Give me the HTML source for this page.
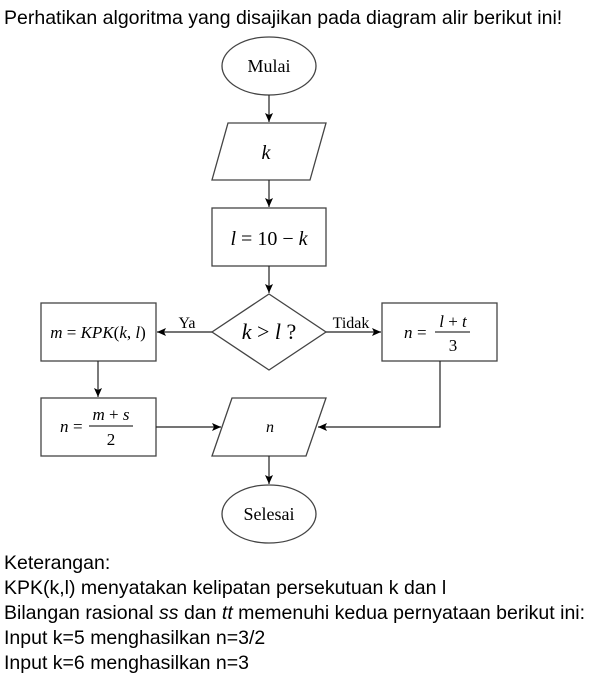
<!DOCTYPE html>
<html><head><meta charset="utf-8"><style>
body{margin:0;width:611px;height:688px;background:#fff;font-family:"Liberation Sans",sans-serif;color:#000;overflow:hidden}
.t{position:absolute;left:4px;font-size:19.5px;white-space:nowrap}
svg{position:absolute;left:0;top:0}
</style></head><body>
<div class="t" style="top:7px">Perhatikan algoritma yang disajikan pada diagram alir berikut ini!</div>
<svg width="611" height="688" font-family="Liberation Serif, serif">
<defs><marker id="a" markerWidth="10" markerHeight="10" refX="9" refY="5" orient="auto" markerUnits="userSpaceOnUse"><path d="M0,1 L9,5 L0,9 L2,5 Z" fill="#000"/></marker></defs>
<g fill="none" stroke="#444" stroke-width="1.3">
<ellipse cx="269" cy="66" rx="47" ry="29"/>
<polygon points="228,123 326,123 310,180 212,180"/>
<rect x="212" y="208" width="114" height="58"/>
<polygon points="269,294 326,332 269,370 212,332"/>
<rect x="41" y="303" width="115" height="58"/>
<rect x="382" y="303" width="115" height="58"/>
<rect x="41" y="398" width="115" height="58"/>
<polygon points="232,398 326,398 306,456 212,456"/>
<ellipse cx="269" cy="514" rx="47" ry="29"/>
</g>
<g stroke="#222" stroke-width="1.2" fill="none" marker-end="url(#a)">
<line x1="269" y1="95" x2="269" y2="122"/>
<line x1="269" y1="180" x2="269" y2="207"/>
<line x1="269" y1="266" x2="269" y2="293"/>
<line x1="212" y1="332" x2="157" y2="332"/>
<line x1="326" y1="332" x2="381" y2="332"/>
<line x1="98" y1="361" x2="98" y2="397"/>
<line x1="156" y1="427" x2="221" y2="427"/>
<polyline points="440,361 440,427 318,427"/>
<line x1="269" y1="456" x2="269" y2="484"/>
</g>
<g font-size="18" text-anchor="middle">
<text x="269" y="72">Mulai</text>
<text x="266" y="159" font-style="italic" font-size="20">k</text>
<text x="269" y="245" font-size="20"><tspan font-style="italic">l</tspan> = 10 − <tspan font-style="italic">k</tspan></text>
<text x="269" y="339" font-size="22"><tspan font-style="italic">k</tspan> &gt; <tspan font-style="italic">l</tspan> ?</text>
<text x="98" y="338" font-size="17"><tspan font-style="italic">m</tspan> = <tspan font-style="italic">KPK</tspan>(<tspan font-style="italic">k</tspan>, <tspan font-style="italic">l</tspan>)</text>
<text x="187" y="328" font-size="16">Ya</text>
<text x="351" y="328" font-size="16">Tidak</text>
<text x="270" y="432" font-style="italic" font-size="16">n</text>
<text x="269" y="520">Selesai</text>
</g>
<g font-size="17">
<text x="404" y="338" font-style="italic">n</text><text x="417" y="338">=</text>
<text x="453" y="327" text-anchor="middle"><tspan font-style="italic">l</tspan> + <tspan font-style="italic">t</tspan></text>
<line x1="435" y1="332" x2="470" y2="332" stroke="#000" stroke-width="1"/>
<text x="453" y="351" text-anchor="middle">3</text>
<text x="60" y="432" font-style="italic">n</text><text x="73" y="432">=</text>
<text x="111" y="420" text-anchor="middle"><tspan font-style="italic">m</tspan> + <tspan font-style="italic">s</tspan></text>
<line x1="89" y1="426" x2="133" y2="426" stroke="#000" stroke-width="1"/>
<text x="111" y="445" text-anchor="middle">2</text>
</g>
</svg>
<div class="t" style="top:552px">Keterangan:</div>
<div class="t" style="top:577px">KPK(k,l) menyatakan kelipatan persekutuan k dan l</div>
<div class="t" style="top:602px">Bilangan rasional <i>ss</i> dan <i>tt</i> memenuhi kedua pernyataan berikut ini:</div>
<div class="t" style="top:627px">Input k=5 menghasilkan n=3/2</div>
<div class="t" style="top:652px">Input k=6 menghasilkan n=3</div>
</body></html>
